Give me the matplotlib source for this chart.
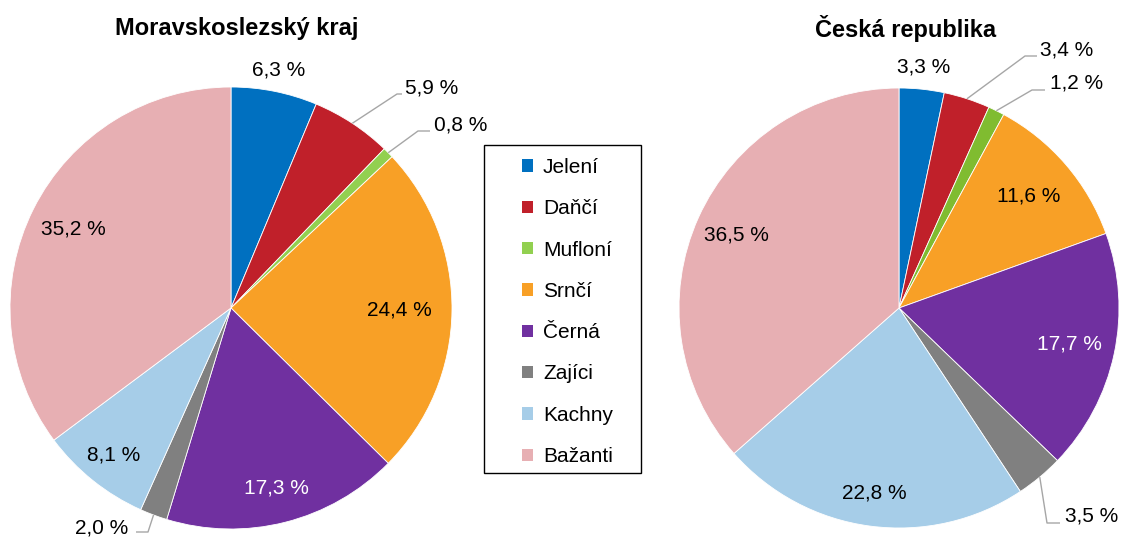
import matplotlib
matplotlib.use('Agg')
import matplotlib.pyplot as plt
import numpy as np
from matplotlib.patches import Rectangle, Patch

plt.rcParams['font.family'] = ['Liberation Sans', 'DejaVu Sans']

categories = ["Jelení", "Daňčí", "Mufloní", "Srnčí", "Černá", "Zajíci", "Kachny", "Bažanti"]
msk_values = [6.3, 5.9, 0.8, 24.4, 17.3, 2.0, 8.1, 35.2]
cr_values = [3.3, 3.4, 1.2, 11.6, 17.7, 3.5, 22.8, 36.5]
titles = ["Moravskoslezský kraj", "Česká republika"]
colors = ["#0070C0", "#C0202A", "#92D050", "#F8A026", "#7030A0", "#808080", "#A6CDE8", "#E7AFB3"]
colors_cr = ["#0070C0", "#C0202A", "#80BC30", "#F8A026", "#7030A0", "#808080", "#A6CDE8", "#E7AFB3"]

W, H = 1121, 537
fig = plt.figure(figsize=(W / 100, H / 100), dpi=100)
ax = fig.add_axes([0, 0, 1, 1])
ax.set_xlim(0, W)
ax.set_ylim(0, H)
ax.set_aspect('equal')
ax.axis('off')


def P(x, y):
    return (x, H - y)


FS = 15
LINE_C = "#A6A6A6"

# label layout per slice: ('in', dist, color) | ('out', dist) | ('lead', text_xy, elbow_xy, end_xy, ha)
layouts = [
    [('out', 1.10), ('lead', (405, 88), (397, 94), (402, 94), 'left'),
     ('lead', (434, 125), (418, 131), (430, 131), 'left'), ('in', 0.76, 'black'),
     ('in', 0.84, 'white'), ('lead', (128, 528), (148, 532), (136, 532), 'right'),
     ('in', 0.85, 'black'), ('in', 0.80, 'black')],
    [('out', 1.10), ('lead', (1040, 50), (1025, 56), (1037, 56), 'left'),
     ('lead', (1050, 83), (1032, 90), (1045, 90), 'left'), ('in', 0.78, 'black'),
     ('in', 0.79, 'white'), ('lead', (1065, 516), (1047, 523), (1060, 523), 'left'),
     ('in', 0.85, 'black'), ('in', 0.81, 'black')],
]
centers = [(231, 308), (899, 308)]
radii = [221, 220]
title_pos = [(237, 28), (906, 28)]
pie_colors = [colors, colors_cr]

for k, vals in enumerate([msk_values, cr_values]):
    wedges, _ = ax.pie(vals, colors=pie_colors[k], startangle=90, counterclock=False,
                       center=P(*centers[k]), radius=radii[k],
                       wedgeprops=dict(edgecolor='white', linewidth=0.6))
    cx, cy = P(*centers[k])
    for w, v, lay in zip(wedges, vals, layouts[k]):
        txt = f"{v:.1f}".replace('.', ',') + " %"
        mid = np.deg2rad((w.theta1 + w.theta2) / 2)
        r = w.r
        if lay[0] in ('in', 'out'):
            d = lay[1]
            col = lay[2] if lay[0] == 'in' else 'black'
            ax.text(cx + d * r * np.cos(mid), cy + d * r * np.sin(mid), txt,
                    ha='center', va='center', fontsize=FS, color=col)
        else:
            _, txy, exy, endxy, ha = lay
            ax_pt = (cx + r * np.cos(mid), cy + r * np.sin(mid))
            e = P(*exy)
            en = P(*endxy)
            ax.plot([ax_pt[0], e[0], en[0]], [ax_pt[1], e[1], en[1]],
                    color=LINE_C, lw=1, solid_capstyle='butt')
            ax.text(*P(*txy), txt, ha=ha, va='center', fontsize=FS, color='black')
    ax.text(*P(*title_pos[k]), titles[k], ha='center', va='center',
            fontsize=17, fontweight='bold')

ax.set_xlim(0, W)
ax.set_ylim(0, H)

# legend frame
fx, fy = P(484, 473)
ax.add_patch(Rectangle((fx, fy), 157, 328, fill=False, edgecolor='black', lw=1))

handles = [Patch(facecolor=c, edgecolor='none') for c in colors]
fig.legend(handles, categories, loc='upper left',
           bbox_to_anchor=(522 / W, 1 - 158 / H), frameon=False,
           fontsize=FS, borderpad=0, borderaxespad=0,
           handlelength=0.53, handleheight=0.53, handletextpad=0.48,
           labelspacing=1.07)

fig.savefig('out.png', dpi=100)
